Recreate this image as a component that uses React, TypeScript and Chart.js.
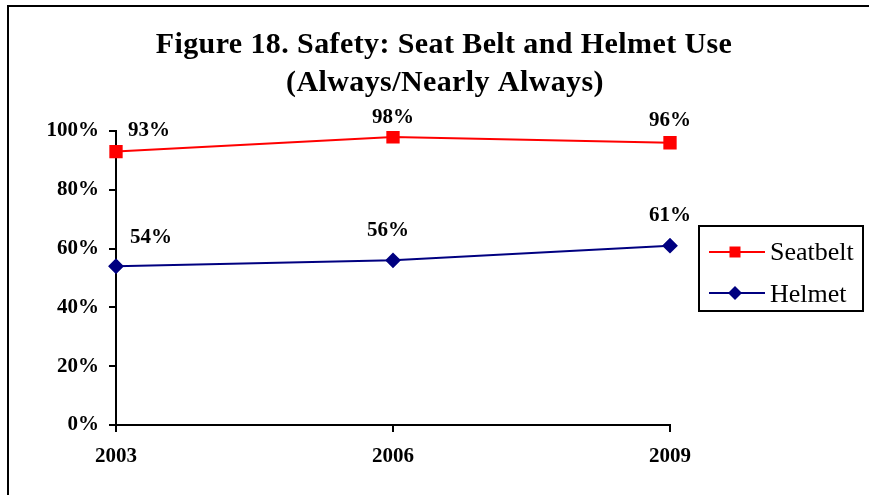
import React, { useEffect, useRef } from "react";
import { Chart, registerables } from "chart.js";

Chart.register(...registerables);

const years = ["2003", "2006", "2009"];
const seatbelt = [93, 98, 96];
const helmet = [54, 56, 61];
const seriesNames = ["Seatbelt", "Helmet"];
const titleLines = ["Figure 18. Safety: Seat Belt and Helmet Use", "(Always/Nearly Always)"];
const yTicks = [0, 20, 40, 60, 80, 100];

const RED = "#FF0000";
const NAVY = "#000080";
const SERIF = '"Liberation Serif", "Times New Roman", serif';

// label offsets (style) relative to each point, baseline aligned
const labelOffsets = [
  [[33, -16], [0, -13.5], [0, -17]],
  [[35, -23.5], [-5, -24.5], [0, -25]],
];

const decorPlugin = {
  id: "decor",
  afterDraw(chart: any) {
    const ctx = chart.ctx as CanvasRenderingContext2D;
    ctx.save();
    // frame
    ctx.strokeStyle = "#000";
    ctx.lineWidth = 2;
    ctx.strokeRect(8, 6, 900, 520);

    // title
    ctx.fillStyle = "#000";
    ctx.font = `bold 30px ${SERIF}`;
    ctx.textAlign = "center";
    ctx.textBaseline = "alphabetic";
    try { (ctx as any).letterSpacing = "0.4px"; } catch (e) {}
    ctx.fillText(titleLines[0], 444, 53);
    ctx.fillText(titleLines[1], 445, 91);
    try { (ctx as any).letterSpacing = "0px"; } catch (e) {}

    // data labels
    ctx.font = `bold 21px ${SERIF}`;
    chart.data.datasets.forEach((ds: any, i: number) => {
      const meta = chart.getDatasetMeta(i);
      meta.data.forEach((pt: any, j: number) => {
        const off = labelOffsets[i][j];
        ctx.fillText(ds.data[j] + "%", pt.x + off[0], pt.y + off[1]);
      });
    });

    // legend
    const lx = 699, ly = 226, lw = 164, lh = 85;
    ctx.lineWidth = 2;
    ctx.strokeStyle = "#000";
    ctx.strokeRect(lx, ly, lw, lh);
    const rows = [252, 293];
    const textBase = [260, 301.5];
    chart.data.datasets.forEach((ds: any, i: number) => {
      const y = rows[i];
      ctx.strokeStyle = ds.borderColor;
      ctx.lineWidth = 2;
      ctx.beginPath();
      ctx.moveTo(709, y);
      ctx.lineTo(765, y);
      ctx.stroke();
      ctx.fillStyle = ds.pointBackgroundColor;
      ctx.beginPath();
      if (ds.pointStyle === "rect") {
        ctx.rect(735 - 5.5, y - 5.5, 11, 11);
      } else {
        ctx.moveTo(735, y - 7);
        ctx.lineTo(742, y);
        ctx.lineTo(735, y + 7);
        ctx.lineTo(728, y);
        ctx.closePath();
      }
      ctx.fill();
      ctx.fillStyle = "#000";
      ctx.font = `26px ${SERIF}`;
      ctx.textAlign = "left";
      ctx.fillText(ds.label, 770, textBase[i]);
    });
    ctx.restore();
  },
};

export default function App() {
  const ref = useRef<HTMLCanvasElement>(null);
  useEffect(() => {
    if (!ref.current) return;
    const chart = new Chart(ref.current, {
      type: "line",
      data: {
        labels: years,
        datasets: [
          {
            label: seriesNames[0],
            data: seatbelt,
            borderColor: RED,
            backgroundColor: RED,
            pointBackgroundColor: RED,
            pointBorderColor: RED,
            pointStyle: "rect",
            pointRadius: 8,
            borderWidth: 2,
            tension: 0,
          },
          {
            label: seriesNames[1],
            data: helmet,
            borderColor: NAVY,
            backgroundColor: NAVY,
            pointBackgroundColor: NAVY,
            pointBorderColor: NAVY,
            pointStyle: "rectRot",
            pointRadius: 6.5,
            borderWidth: 2,
            tension: 0,
          },
        ],
      },
      options: {
        animation: false,
        responsive: false,
        maintainAspectRatio: false,
        layout: { padding: { top: 131, right: 199, bottom: 0, left: 0 } },
        plugins: {
          legend: { display: false },
          title: { display: false },
          tooltip: { enabled: false },
        },
        scales: {
          x: {
            offset: false,
            afterFit: (s: any) => { s.height = 70; },
            grid: {
              display: true,
              drawOnChartArea: false,
              drawTicks: true,
              tickLength: 7,
              color: "#000",
              lineWidth: 2,
              offset: false,
            },
            border: { display: true, color: "#000", width: 2 },
            ticks: {
              color: "#000",
              font: { family: SERIF, size: 21, weight: "bold" },
              padding: 12,
              maxRotation: 0,
            },
          },
          y: {
            min: 0,
            max: 100,
            afterFit: (s: any) => { s.width = 116; },
            afterBuildTicks: (s: any) => { s.ticks = yTicks.map((v) => ({ value: v })); },
            grid: {
              display: true,
              drawOnChartArea: false,
              drawTicks: true,
              tickLength: 7,
              color: "#000",
              lineWidth: 2,
            },
            border: { display: true, color: "#000", width: 2 },
            ticks: {
              color: "#000",
              font: { family: SERIF, size: 21, weight: "bold" },
              padding: 10,
              callback: (v: any) => v + "%",
            },
          },
        },
      },
      plugins: [decorPlugin],
    });
    return () => chart.destroy();
  }, []);
  return (
    <div style={{ position: "absolute", left: 0, top: 0, width: 869, height: 495, background: "#fff" }}>
      <canvas ref={ref} width={869} height={495} style={{ display: "block", width: 869, height: 495 }} />
    </div>
  );
}
